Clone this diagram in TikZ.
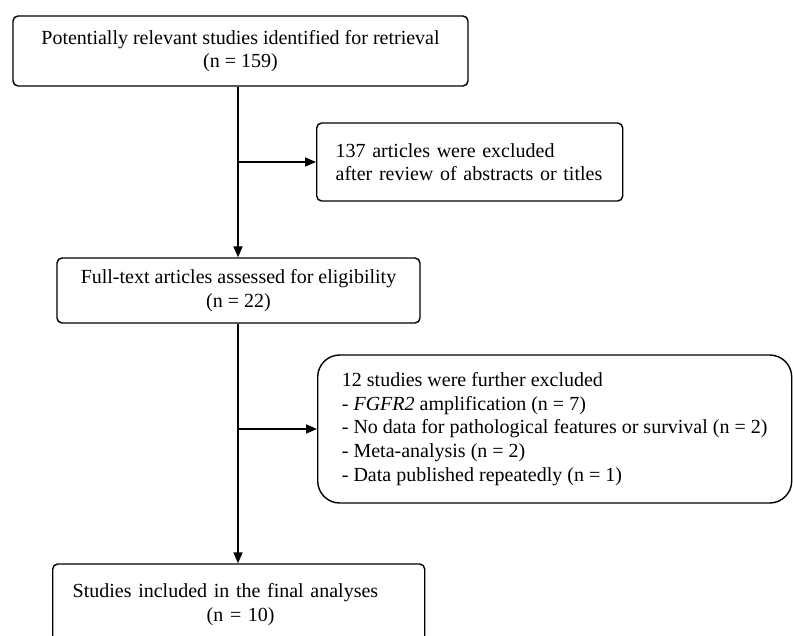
\documentclass[tikz,border=0pt]{standalone}
\usepackage{fontspec}
\setmainfont{Liberation Serif}
\usetikzlibrary{arrows.meta}
\tikzset{
  stagebox/.style={draw,line width=1.4pt,rounded corners=5pt,inner ysep=0pt,
    font=\fontsize{20}{23.6}\selectfont},
  flowarrow/.style={line width=1.6pt,-{Triangle[length=11pt,width=9pt]}}
}
\begin{document}
\begin{tikzpicture}[x=1pt,y=-1pt]
    \useasboundingbox (0,0) rectangle (793,635);
    \clip (0,0) rectangle (793,635);
    \coordinate (trunk) at (238,0);
    \node[stagebox,align=center,minimum width=455pt,minimum height=70pt] (ident) at (240.5,51)
        {Potentially relevant studies identified for retrieval\\(n = 159)};
    \node[stagebox,anchor=west,align=left,text width=268pt,inner xsep=19pt,minimum height=78pt] (abstr) at (316,162)
        {137 articles were excluded\\after review of abstracts or titles};
    \node[stagebox,align=center,minimum width=363pt,minimum height=65pt] (full) at (238.5,290.5)
        {Full-text articles assessed for eligibility\\(n = 22)};
    \node[stagebox,rounded corners=22pt,anchor=west,align=left,inner xsep=21pt,minimum width=474pt,minimum height=148pt] (further) at (317,429)
        {12 studies were further excluded\\- \textit{FGFR2} amplification (n = 7)\\- No data for pathological features or survival (n = 2)\\- Meta-analysis (n = 2)\\- Data published repeatedly (n = 1)};
    \node[stagebox,anchor=west,align=left,text width=332pt,inner xsep=20pt,minimum height=81pt] (final) at (52,604.5)
        {Studies included in the final analyses\\\hspace*{134pt}(n = 10)};
    % main flow
    \draw[flowarrow] (ident.south -| trunk) -- (full.north -| trunk);
    \draw[flowarrow] (full.south -| trunk) -- (final.north -| trunk);
    % exclusions
    \draw[flowarrow] (trunk |- abstr.west) -- (abstr.west);
    \draw[flowarrow] (trunk |- further.west) -- (further.west);
\end{tikzpicture}
\end{document}
